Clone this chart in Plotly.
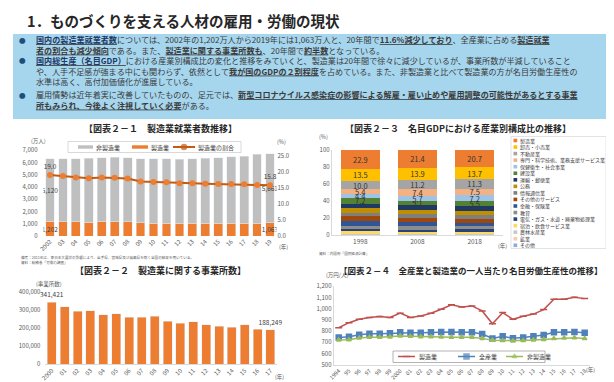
import plotly.graph_objects as go

W, H = 614, 382
def fx(x): return x / W
def fy(y): return 1 - y / H

JP = "Noto Sans CJK JP"
TICK = dict(family=JP, size=6, color="#595959")

# ---------------- data ----------------
# 図表2-1 製造業就業者数推移 (万人, %)
emp_years = ["2002", "03", "04", "05", "06", "07", "08", "09", "10", "11",
             "12", "13", "14", "15", "16", "17", "18", "19"]
emp_mfg = [1202, 1178, 1150, 1142, 1161, 1165, 1144, 1073, 1060, 1049,
           1032, 1039, 1040, 1035, 1045, 1052, 1060, 1063]
emp_nonmfg = [5120, 5138, 5179, 5214, 5228, 5262, 5265, 5241, 5238, 5244,
              5248, 5287, 5331, 5366, 5420, 5478, 5604, 5661]
emp_share = [19.0, 18.7, 18.2, 18.0, 18.2, 18.1, 17.9, 17.0, 16.8, 16.7,
             16.4, 16.4, 16.3, 16.2, 16.2, 16.1, 15.9, 15.8]
emp_names = ["非製造業", "製造業", "製造業の割合"]

# 図表2-2 製造業に関する事業所数
est_years = ["2000", "01", "02", "03", "04", "05", "06", "07", "08", "09",
             "10", "11", "12", "13", "14", "15", "16", "17"]
est_counts = [341421, 316267, 290848, 293911, 270906, 276715, 258543, 258232, 263061,
              235817, 224403, 233186, 216262, 208029, 202410, 217601, 191339, 188249]

# 図表2-3 名目GDPにおける産業別構成比 (%)
gdp_years = ["1998", "2008", "2018"]
gdp_industries = ["製造業", "卸売・小売業", "不動産業", "専門・科学技術、業務支援サービス業",
                  "保健衛生・社会事業", "建設業", "運輸・郵便業", "公務", "情報通信業",
                  "その他のサービス", "金融・保険業", "教育", "電気・ガス・水道・廃棄物処理業",
                  "宿泊・飲食サービス業", "農林水産業", "鉱業", "その他"]
gdp_1998 = [22.9, 13.5, 10.0, 5.4, 4.4, 7.2, 5.3, 5.0, 4.2, 5.5, 5.3, 3.5, 3.0, 2.8, 1.5, 0.1, 0.4]
gdp_2008 = [21.4, 13.9, 11.2, 7.4, 5.7, 5.1, 5.3, 5.1, 5.0, 4.6, 5.0, 3.6, 2.4, 2.6, 1.1, 0.1, 0.5]
gdp_2018 = [20.7, 13.7, 11.3, 7.5, 7.2, 5.5, 5.2, 5.0, 5.0, 4.0, 4.2, 3.6, 2.7, 2.5, 1.2, 0.1, 0.6]
gdp_labeled = 6  # 上位6業種に数値ラベル

# 図表2-4 一人当たり名目労働生産性 (万円/人)
prod_years = ["1994", "95", "96", "97", "98", "99", "2000", "01", "02", "03", "04", "05", "06",
              "07", "08", "09", "10", "11", "12", "13", "14", "15", "16", "17", "18"]
prod_mfg = [830, 875, 905, 922, 930, 922, 960, 922, 935, 960, 995, 1035, 1015,
            1025, 980, 865, 965, 905, 932, 952, 992, 1085, 1085, 1102, 1090]
prod_all = [742, 750, 768, 777, 777, 780, 789, 786, 786, 789, 792, 792, 789,
            789, 774, 735, 753, 737, 742, 753, 765, 789, 789, 793, 786]
prod_nonmfg = [720, 722, 738, 745, 745, 748, 757, 753, 750, 750, 748, 745, 745,
               745, 735, 718, 715, 712, 715, 720, 725, 735, 738, 740, 733]
prod_names = ["製造業", "全産業", "非製造業"]

# ---------------- styles ----------------
ORANGE = "#ED7D31"
GREY = "#BFBFBF"
gdp_colors = ["#ED7D31", "#FFC000", "#A5A5A5", "#F4B183", "#9DC3E6", "#548235", "#203864",
              "#BF8F00", "#7F7F7F", "#9E480E", "#2F5597", "#8C8C8C", "#264478", "#FFD966",
              "#C9C9C9", "#F8CBAD", "#8FAADC"]
prod_styles = [dict(color="#C0504D", symbol="line-ew", size=5),
               dict(color="#4F81BD", symbol="square", size=5),
               dict(color="#9BBB59", symbol="triangle-up", size=4)]

def ends(vals, fmt):
    return [fmt.format(v) if i in (0, len(vals) - 1) else "" for i, v in enumerate(vals)]

fig = go.Figure()

# ---- 2-1 ----
fig.add_trace(go.Bar(x=emp_years, y=emp_mfg, xaxis="x", yaxis="y", width=0.68,
                     marker=dict(color=ORANGE), text=ends(emp_mfg, "{:,}"),
                     textposition="inside", insidetextanchor="middle", constraintext="none",
                     textangle=0,
                     textfont=dict(family=JP, size=6.5, color="#404040"), name=emp_names[1]))
fig.add_trace(go.Bar(x=emp_years, y=emp_nonmfg, xaxis="x", yaxis="y", width=0.68,
                     marker=dict(color=GREY), text=ends(emp_nonmfg, "{:,}"),
                     textposition="inside", insidetextanchor="middle", constraintext="none",
                     textangle=0,
                     textfont=dict(family=JP, size=6.5, color="#404040"), name=emp_names[0]))
fig.add_trace(go.Scatter(x=emp_years, y=emp_share, xaxis="x", yaxis="y2",
                         mode="lines+markers+text", line=dict(color="#C55A11", width=2),
                         marker=dict(color=ORANGE, size=6), text=ends(emp_share, "{:.1f}"),
                         textposition="top center", cliponaxis=False,
                         textfont=dict(family=JP, size=6.5, color="#404040"), name=emp_names[2]))

# ---- 2-2 ----
fig.add_trace(go.Bar(x=est_years, y=est_counts, xaxis="x2", yaxis="y3", width=0.7,
                     marker=dict(color=ORANGE), text=ends(est_counts, "{:,}"),
                     textposition="outside", constraintext="none", cliponaxis=False,
                     textangle=0,
                     textfont=dict(family=JP, size=6.5, color="#404040")))

# ---- 2-3 ----
gdp_by_ind = list(zip(gdp_1998, gdp_2008, gdp_2018))
for k in reversed(range(len(gdp_industries))):
    vals = list(gdp_by_ind[k])
    fig.add_trace(go.Bar(x=gdp_years, y=vals, xaxis="x3", yaxis="y4", width=0.68,
                         marker=dict(color=gdp_colors[k], line=dict(width=0)),
                         name=gdp_industries[k],
                         text=[f"{v:.1f}" for v in vals] if k < gdp_labeled else None,
                         textposition="inside", insidetextanchor="middle",
                         constraintext="none", textangle=0,
                         textfont=dict(family=JP, size=7.5, color="#333333")))

# ---- 2-4 ----
for vals, nm, st in zip([prod_mfg, prod_all, prod_nonmfg], prod_names, prod_styles):
    fig.add_trace(go.Scatter(x=prod_years, y=vals, xaxis="x4", yaxis="y5", mode="lines+markers",
                             name=nm, line=dict(color=st["color"], width=1.5),
                             marker=dict(symbol=st["symbol"], size=st["size"], color=st["color"],
                                         line=dict(color=st["color"], width=1.5))))

# ---- legend keys on a full-page overlay axis (pixel units) ----
def key_line(x0, x1, y, color, msym, msize, width=1.5):
    fig.add_trace(go.Scatter(x=[x0, (x0 + x1) / 2, x1], y=[y, y, y], xaxis="x5", yaxis="y6",
                             mode="lines+markers", line=dict(color=color, width=width),
                             marker=dict(symbol=msym, size=[0, msize, 0], color=color,
                                         line=dict(color=color, width=1.5)),
                             hoverinfo="skip"))

key_line(165, 187, 139, "#C55A11", "circle", 5, 2)
for (x0, x1), st in zip([(390, 407), (450, 467), (498, 515)], prod_styles):
    key_line(x0, x1, 348.5, st["color"], st["symbol"], st["size"])

shapes = []
annotations = []

def rect(x0, y0, x1, y1, fill, line=None, lw=0, layer="above"):
    shapes.append(dict(type="rect", xref="paper", yref="paper", x0=fx(x0), x1=fx(x1),
                       y0=fy(y1), y1=fy(y0), fillcolor=fill, layer=layer,
                       line=dict(color=line or fill, width=lw)))

def txt(x, y, s, size=6, color="#404040", xanchor="left", bold=False, angle=0):
    annotations.append(dict(x=fx(x), y=fy(y), xref="paper", yref="paper", text=(f"<b>{s}</b>" if bold else s),
                            showarrow=False, xanchor=xanchor, yanchor="middle", textangle=angle,
                            align="left",
                            font=dict(family=JP, size=size, color=color), borderpad=0))

# Title + info box
txt(18, 12.5, "1．ものづくりを支える人材の雇用・労働の現状", size=14.5, color="#262626", bold=True)
rect(5, 26, 609, 111, "#A6D6EE", layer="below")

U = "#1F3864"
bullets = [
    (37.2, f"<b><u><span style='color:{U}'>国内の製造業就業者数</span></u></b>については、2002年の1,202万人から2019年には1,063万人と、20年間で<b><u>11.6%減少しており</u></b>、全産業に占める<b><u>製造就業</u></b>"
           "<br><b><u>者の割合も減少傾向</u></b>である。また、<b><u>製造業に関する事業所数も</u></b>、20年間で<b><u>約半数</u></b>となっている。"),
    (62.7, f"<b><u><span style='color:{U}'>国内総生産（名目GDP）</span></u></b>における産業別構成比の変化と推移をみていくと、製造業は20年間で徐々に減少しているが、事業所数が半減していること"
           "<br>や、人手不足感が強まる中にも関わらず、依然として<b><u>我が国のGDPの２割程度</u></b>を占めている。また、非製造業と比べて製造業の方が名目労働生産性の"
           "<br>水準は高く、高付加価値化が進展している。"),
    (91.8, "雇用情勢は近年着実に改善していたものの、足元では、<b><u>新型コロナウイルス感染症の影響による解雇・雇い止めや雇用調整の可能性があるとする事業</u></b>"
           "<br><b><u>所もみられ、今後よく注視していく必要</u></b>がある。"),
]
for (yc, s), yb in zip(bullets, [32, 52.5, 86.5]):
    txt(10, yb, "●", size=6.5, color="#1F4E79")
    txt(27, yc, s, size=8.1, color="#3A3A3A")

# Chart titles
txt(152, 120, "【図表２－１　製造業就業者数推移】", size=9, color="#262626", xanchor="center", bold=True)
txt(152, 262, "【図表２－２　製造業に関する事業所数】", size=9, color="#262626", xanchor="center", bold=True)
txt(450, 120, "【図表２－３　名目GDPにおける産業別構成比の推移】", size=9, color="#262626", xanchor="center", bold=True)
txt(463, 262, "【図表２－４　全産業と製造業の一人当たり名目労働生産性の推移】", size=8.5, color="#262626", xanchor="center", bold=True)

# Units / axis notes
txt(22, 133, "(万人)", size=5.5, color="#595959")
txt(268, 134, "(%)", size=5.5, color="#595959")
txt(270, 239, "(年)", size=5.5, color="#595959")
txt(27, 276, "(事業所数)", size=5.5, color="#595959")
txt(266, 369, "(年)", size=5.5, color="#595959")
txt(310, 129, "(%)", size=5.5, color="#595959")
txt(489, 237.5, "(年)", size=5.5, color="#595959")
txt(317, 267, "(万円/人)", size=5.5, color="#595959")
txt(577, 362, "(年)", size=5.5, color="#595959")

# Source notes
txt(12, 249.5, "備考：2011年は、東日本大震災の影響により、岩手県、宮城県及び福島県を除く全国の結果を用いている。", size=3.6, color="#595959")
txt(12, 254.5, "資料：総務省「労働力調査」", size=3.6, color="#595959")
txt(310, 245, "資料：内閣府「国民経済計算」", size=3.6, color="#595959")

# Legend 2-1
rect(60, 133.5, 233, 144.5, "white", line="#BFBFBF", lw=0.6, layer="below")
rect(70, 137.3, 85, 140.7, GREY)
txt(87, 139, emp_names[0], size=6)
rect(124, 137.3, 140, 140.7, ORANGE)
txt(142, 139, emp_names[1], size=6)
txt(189, 139, emp_names[2], size=6)

# Legend 2-3
rect(503, 128.5, 598, 240.5, "white", line="#D0D0D0", lw=0.6, layer="below")
for i, (nm, c) in enumerate(zip(gdp_industries, gdp_colors)):
    yy = 132.5 + i * 6.55
    rect(505.5, yy - 1.8, 509.2, yy + 1.8, c)
    txt(510.5, yy, nm, size=5, color="#404040")

# Legend 2-4
rect(385, 343, 537, 354.5, "white", line="#7F7F7F", lw=0.6, layer="below")
for xx, nm in zip([410, 470, 518], prod_names):
    txt(xx, 348.5, nm, size=6)

ax_common = dict(showgrid=False, zeroline=False, tickfont=TICK, ticks="", automargin=False)

fig.update_layout(
    width=W, height=H, margin=dict(l=0, r=0, t=0, b=0),
    paper_bgcolor="white", plot_bgcolor="rgba(0,0,0,0)",
    barmode="stack", showlegend=False, font=dict(family=JP),
    shapes=shapes, annotations=annotations,
    xaxis=dict(domain=[fx(35.5), fx(268.5)], anchor="y", type="category", range=[-0.5, 17.5],
               tickmode="array", tickvals=emp_years, tickangle=-45, showline=False, **ax_common),
    yaxis=dict(domain=[fy(228), fy(142.3)], anchor="x", range=[0, 7000], dtick=1000,
               tickformat=",", ticklabelstandoff=5, **ax_common),
    yaxis2=dict(overlaying="y", side="right", anchor="x", range=[0, 25 * 85.7 / 80.3], dtick=5,
                tickformat=".1f", **ax_common),
    xaxis2=dict(domain=[fx(37.4), fx(268.9)], anchor="y3", type="category", range=[-0.5, 17.5],
                tickmode="array", tickvals=est_years, tickangle=-45, showline=True,
                linecolor="#D9D9D9", linewidth=0.8, **ax_common),
    yaxis3=dict(domain=[fy(356), fy(283.6)], anchor="x2", range=[0, 400000], dtick=100000,
                tickformat=",", ticklabelstandoff=4, **ax_common),
    xaxis3=dict(domain=[fx(323.7), fx(495.2)], anchor="y4", type="category", range=[-0.5, 2.5],
                showline=True, linecolor="#D9D9D9", linewidth=0.8,
                **{**ax_common, "tickfont": dict(family=JP, size=6.5, color="#595959")}),
    yaxis4=dict(domain=[fy(227.3), fy(141.5)], anchor="x3", range=[0, 100], dtick=20,
                showline=True, linecolor="#D9D9D9", linewidth=0.8, **ax_common),
    xaxis4=dict(domain=[fx(325.6), fx(581.8)], anchor="y5", type="category", range=[-0.5, 24.5],
                tickmode="array", tickvals=prod_years, tickangle=-45, showline=True,
                linecolor="#D9D9D9", linewidth=0.8,
                **{**ax_common, "tickfont": dict(family=JP, size=5.5, color="#595959")}),
    yaxis5=dict(domain=[fy(356.7), fy(278.3)], anchor="x4", range=[500, 1200], dtick=100,
                tickformat=",", showline=True, linecolor="#D9D9D9", linewidth=0.8, **ax_common),
    xaxis5=dict(domain=[0, 1], anchor="y6", range=[0, W], visible=False, fixedrange=True),
    yaxis6=dict(domain=[0, 1], anchor="x5", range=[H, 0], visible=False, fixedrange=True),
)

fig.write_html("out.html")
